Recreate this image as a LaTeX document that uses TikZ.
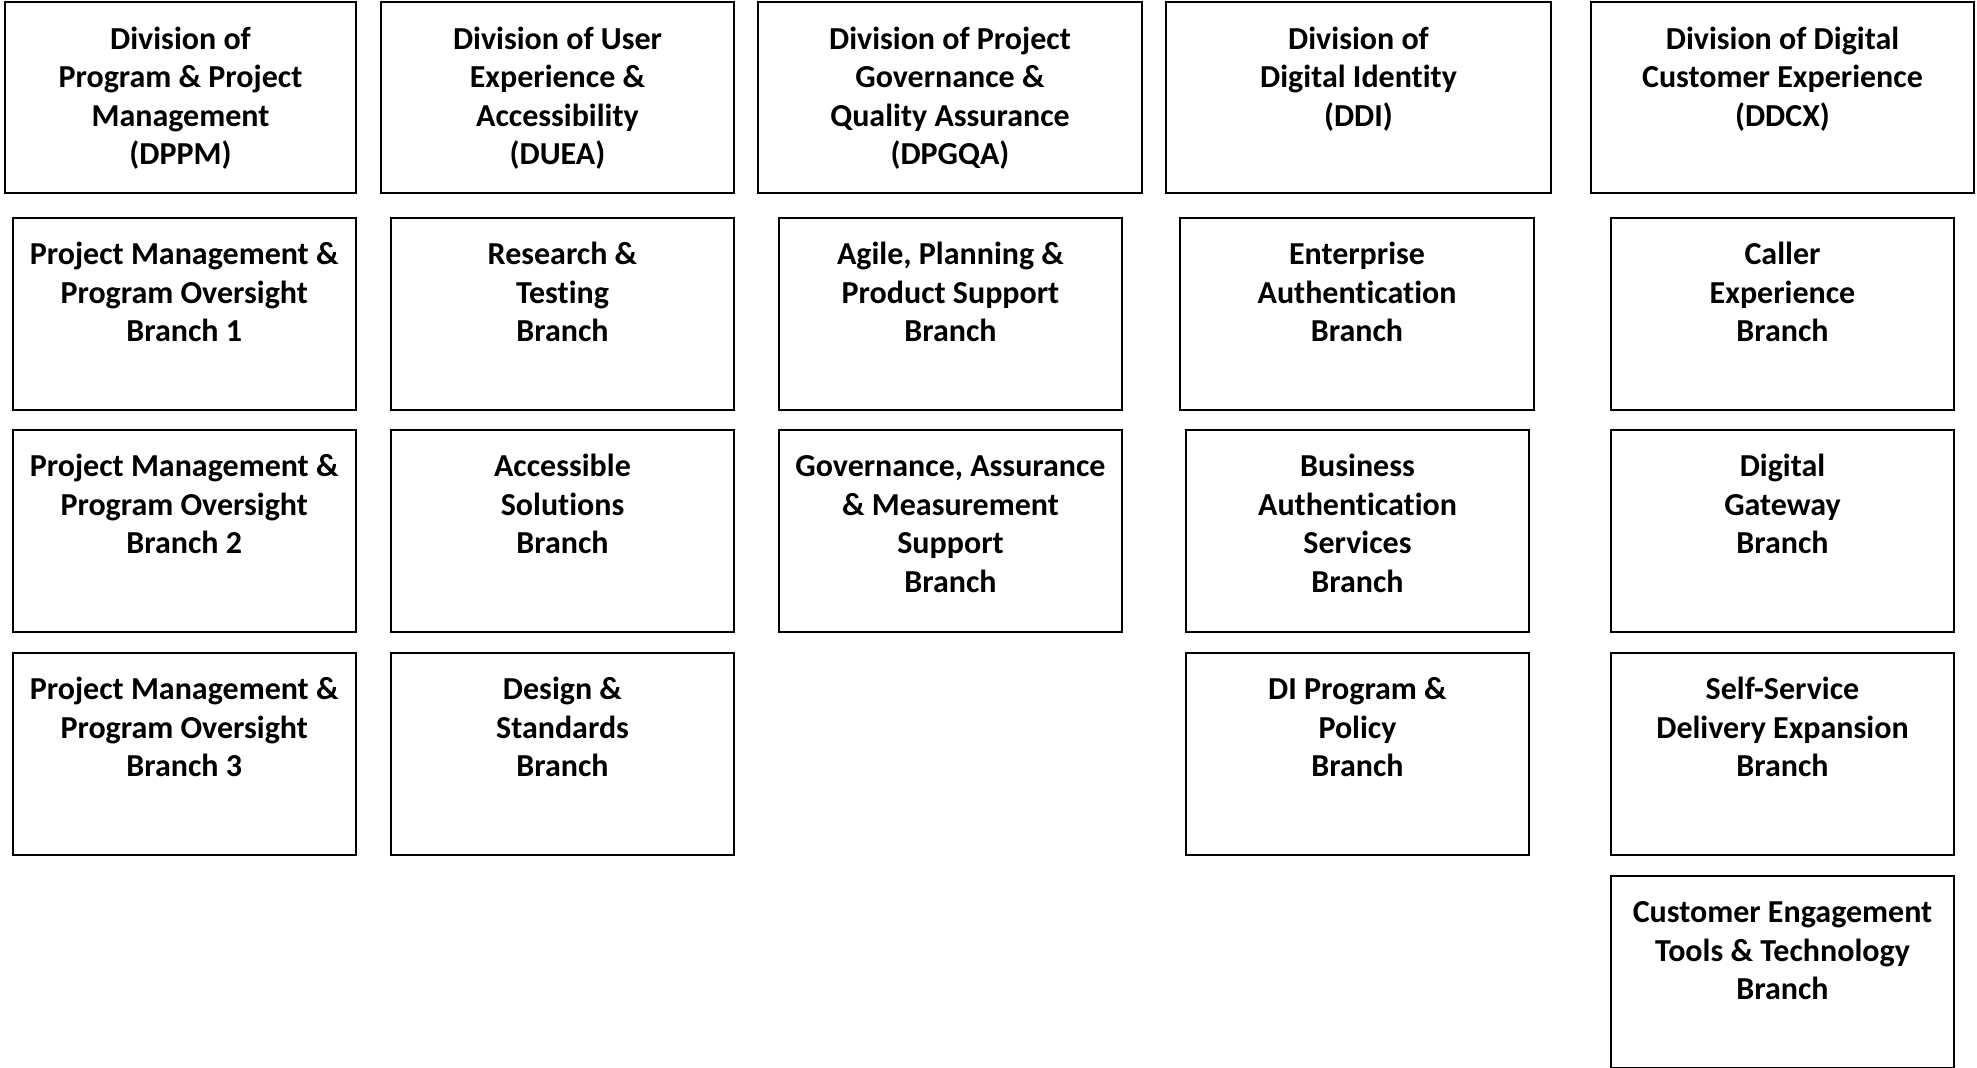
\documentclass[tikz,border=0pt]{standalone}
\usepackage{fontspec}
\setmainfont[Ligatures={NoCommon}]{Carlito}
\tikzset{orgbox/.style={draw, line width=1pt, inner sep=0pt, outer sep=0pt}}
\newcommand\orgunit[6]{%
  \node[orgbox] (#1) at ({(#2+#4)/2},{(#3+#5)/2})
    {\parbox[c][\dimexpr(#5pt-#3pt)/2\relax][t]{\dimexpr(#4pt-#2pt)/2\relax}{%
      \centering\fontsize{16pt}{19.25pt}\selectfont\bfseries\rule{0pt}{23.5pt}#6}};}
\begin{document}
\begin{tikzpicture}[x=0.5pt,y=-0.5pt]
\useasboundingbox (0,0) rectangle (1977,1068);
% divisions
\orgunit{dppm}{5}{2.5}{356}{193}{Division of\\Program \& Project\\Management\\(DPPM)}
\orgunit{duea}{381}{2.5}{734}{193}{Division of User\\Experience \&\\Accessibility\\(DUEA)}
\orgunit{dpgqa}{758}{2.5}{1142}{193}{Division of Project\\Governance \&\\Quality Assurance\\(DPGQA)}
\orgunit{ddi}{1166}{2.5}{1551}{193}{Division of\\Digital Identity\\(DDI)}
\orgunit{ddcx}{1591}{2.5}{1974}{193}{Division of Digital\\Customer Experience\\(DDCX)}
% DPPM branches
\orgunit{pm1}{12.5}{218}{356}{410}{Project Management \&\\Program Oversight\\Branch 1}
\orgunit{pm2}{12.5}{430}{356}{632}{Project Management \&\\Program Oversight\\Branch 2}
\orgunit{pm3}{12.5}{653}{356}{855}{Project Management \&\\Program Oversight\\Branch 3}
% DUEA branches
\orgunit{rt}{391}{218}{734}{410}{Research \&\\Testing\\Branch}
\orgunit{as}{391}{430}{734}{632}{Accessible\\Solutions\\Branch}
\orgunit{ds}{391}{653}{734}{855}{Design \&\\Standards\\Branch}
% DPGQA branches
\orgunit{apps}{779}{218}{1122}{410}{Agile, Planning \&\\Product Support\\Branch}
\orgunit{gams}{779}{430}{1122}{632}{Governance, Assurance\\\& Measurement\\Support\\Branch}
% DDI branches
\orgunit{ea}{1180}{218}{1534}{410}{Enterprise\\Authentication\\Branch}
\orgunit{bas}{1186}{430}{1529}{632}{Business\\Authentication\\Services\\Branch}
\orgunit{dipp}{1186}{653}{1529}{855}{DI Program \&\\Policy\\Branch}
% DDCX branches
\orgunit{ce}{1611}{218}{1954}{410}{Caller\\Experience\\Branch}
\orgunit{dg}{1611}{430}{1954}{632}{Digital\\Gateway\\Branch}
\orgunit{ssde}{1611}{653}{1954}{855}{Self-Service\\Delivery Expansion\\Branch}
\orgunit{cett}{1611}{876}{1954}{1068}{Customer Engagement\\Tools \& Technology\\Branch}
\end{tikzpicture}
\end{document}
